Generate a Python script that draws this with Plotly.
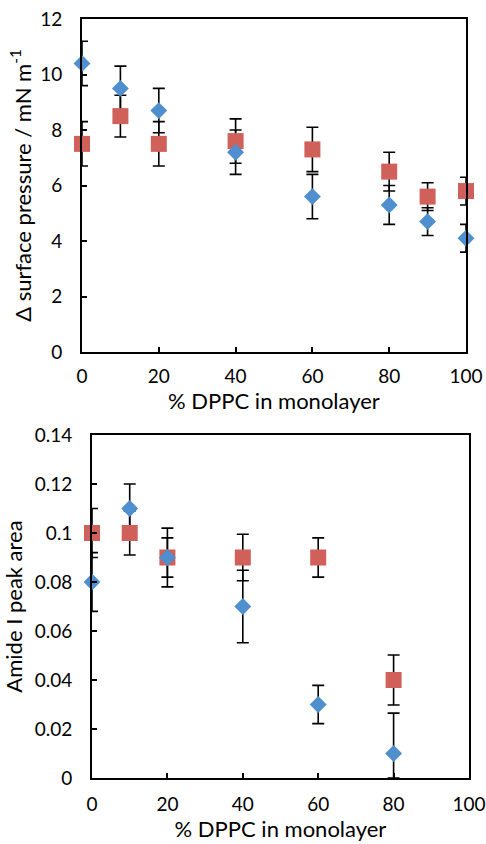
import plotly.graph_objects as go

# % DPPC in monolayer
x_top = [0, 10, 20, 40, 60, 80, 90, 100]
x_bot = [0, 10, 20, 40, 60, 80]

# delta surface pressure (mN/m)
blue_top = [10.4, 9.5, 8.7, 7.2, 5.6, 5.3, 4.7, 4.1]
blue_top_err = [0.8, 0.8, 0.8, 0.8, 0.8, 0.7, 0.5, 0.5]
red_top = [7.5, 8.5, 7.5, 7.6, 7.3, 6.5, 5.6, 5.8]
red_top_err = [0.8, 0.75, 0.8, 0.8, 0.8, 0.7, 0.5, 0.5]

# amide I peak area
blue_bot = [0.08, 0.11, 0.09, 0.07, 0.03, 0.01]
blue_bot_err = [0.012, 0.01, 0.008, 0.0148, 0.0078, 0.0165]
red_bot = [0.1, 0.1, 0.09, 0.09, 0.09, 0.04]
red_bot_err = [0.01, 0.009, 0.012, 0.0095, 0.008, 0.0102]

BLUE = "rgb(79,143,205)"
RED = "rgb(208,96,90)"
FONT = "Lato"
W, H = 486, 844

fig = go.Figure()


def add_series(x, y, err, color, symbol, size, xa, ya, floor=None):
    minus = err if floor is None else [min(e, v - floor) for e, v in zip(err, y)]
    fig.add_trace(go.Scatter(
        x=x, y=y, mode="markers", xaxis=xa, yaxis=ya, cliponaxis=False,
        marker=dict(size=1, color="rgba(0,0,0,0)"), showlegend=False,
        error_y=dict(type="data", array=err, arrayminus=minus, color="black",
                     thickness=1.6, width=6)))
    return dict(x=x, y=y, mode="markers", xaxis=xa, yaxis=ya, cliponaxis=False,
                showlegend=False,
                marker=dict(symbol=symbol, size=size, color=color, line=dict(width=0)))


# error bars first, then markers so all bars sit under the symbols
m1 = add_series(x_top, red_top, red_top_err, RED, "square", 16, "x", "y")
m2 = add_series(x_top, blue_top, blue_top_err, BLUE, "diamond", 13, "x", "y")
m3 = add_series(x_bot, red_bot, red_bot_err, RED, "square", 16, "x2", "y2", floor=0)
m4 = add_series(x_bot, blue_bot, blue_bot_err, BLUE, "diamond", 13, "x2", "y2", floor=0)
for m in (m1, m2, m3, m4):
    fig.add_trace(go.Scatter(**m))

ax = dict(showline=True, linecolor="black", linewidth=1.6, mirror=True,
          ticks="inside", ticklen=5, tickwidth=1.6, tickcolor="black",
          showgrid=False, zeroline=False, automargin=False,
          tickfont=dict(family=FONT, size=19, color="black"))
title_font = dict(family=FONT, size=22, color="black")

fig.update_layout(
    width=W, height=H, margin=dict(l=0, r=0, t=0, b=0),
    paper_bgcolor="white", plot_bgcolor="white",
    xaxis=dict(ax, domain=[82 / W, 466 / W], range=[0, 100], dtick=20, anchor="y",
               ticklabelstandoff=6,
               title=dict(text="% DPPC in monolayer", standoff=4, font=title_font)),
    yaxis=dict(ax, domain=[1 - 352 / H, 1 - 19 / H], range=[0, 12], dtick=2, anchor="x",
               ticklabelstandoff=14,
               title=dict(text="Δ surface pressure / mN m<sup>-1</sup>", standoff=3,
                          font=title_font)),
    xaxis2=dict(ax, domain=[92 / W, 469 / W], range=[0, 100], dtick=20, anchor="y2",
                ticklabelstandoff=8,
                title=dict(text="% DPPC in monolayer", standoff=6, font=title_font)),
    yaxis2=dict(ax, domain=[1 - 778 / H, 1 - 435 / H], range=[0, 0.14], dtick=0.02,
                anchor="x2", ticklabelstandoff=14,
                title=dict(text="Amide I peak area", standoff=8, font=title_font)),
)

# drop the page's default body margin so the figure fills the window exactly
fig.write_html("out.html", config=dict(displayModeBar=False),
               post_script="document.body.style.margin='0';document.body.style.overflow='hidden';")
